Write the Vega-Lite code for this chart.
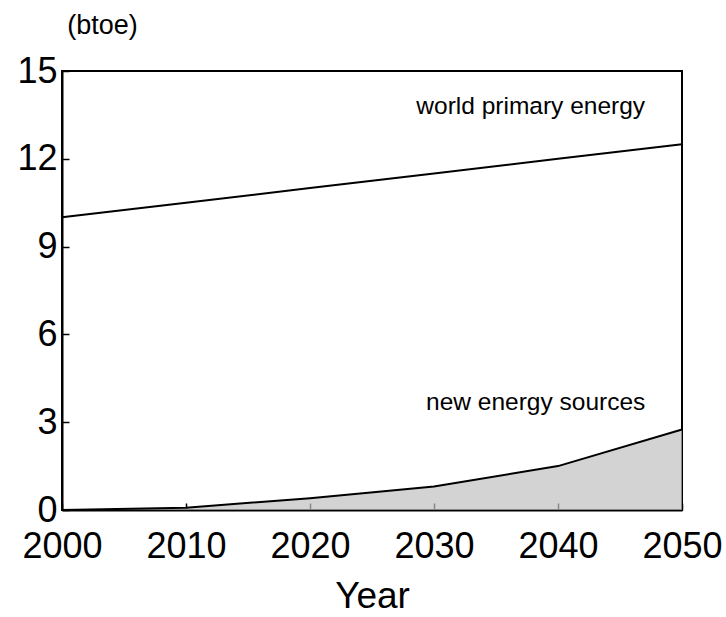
{
  "$schema": "https://vega.github.io/schema/vega-lite/v6.json",
  "autosize": "none",
  "width": 620,
  "height": 439,
  "padding": {"left": 62, "top": 71, "right": 44, "bottom": 107},
  "background": "white",
  "config": {
    "font": "Liberation Sans",
    "view": {"stroke": "black", "strokeWidth": 2},
    "axis": {"domainColor": "black", "domainWidth": 2, "tickColor": "black", "tickWidth": 1.5, "labelColor": "black", "titleColor": "black", "grid": false, "labelFlush": false, "labelOverlap": false}
  },
  "datasets": {
    "series": [
      {"year": 2000, "world": 10.0, "newsrc": 0.0},
      {"year": 2010, "world": 10.5, "newsrc": 0.08},
      {"year": 2020, "world": 11.0, "newsrc": 0.4},
      {"year": 2030, "world": 11.5, "newsrc": 0.8},
      {"year": 2040, "world": 12.0, "newsrc": 1.5},
      {"year": 2050, "world": 12.5, "newsrc": 2.75}
    ],
    "labels": [
      {"year": 2037.8, "value": 13.77, "text": "world primary energy"},
      {"year": 2038.2, "value": 3.66, "text": "new energy sources"}
    ]
  },
  "layer": [
    {
      "data": {"name": "series"},
      "mark": {"type": "area", "color": "#c0c0c0", "line": {"color": "black", "strokeWidth": 2}},
      "encoding": {
        "x": {"field": "year", "type": "quantitative", "scale": {"domain": [2000, 2050], "nice": false}, "axis": {"values": [2000, 2010, 2020, 2030, 2040, 2050], "format": "d", "tickSize": -7, "labelPadding": 26, "labelFontSize": 36, "title": "Year", "titleFontSize": 37, "titleFontWeight": "normal", "titlePadding": 14}},
        "y": {"field": "newsrc", "type": "quantitative", "scale": {"domain": [0, 15], "nice": false}, "axis": {"values": [0, 3, 6, 9, 12, 15], "tickSize": -7, "labelPadding": 12, "labelFontSize": 36, "title": "(btoe)", "titleFontSize": 27, "titleFontWeight": "normal", "titleAngle": 0, "titleX": 40, "titleY": -46, "titleAlign": "center", "titleBaseline": "middle"}}
      }
    },
    {
      "data": {"name": "series"},
      "mark": {"type": "line", "color": "black", "strokeWidth": 2},
      "encoding": {
        "x": {"field": "year", "type": "quantitative"},
        "y": {"field": "world", "type": "quantitative"}
      }
    },
    {
      "data": {"name": "labels"},
      "mark": {"type": "text", "fontSize": 24.5, "color": "black", "align": "center", "baseline": "middle"},
      "encoding": {
        "x": {"field": "year", "type": "quantitative"},
        "y": {"field": "value", "type": "quantitative"},
        "text": {"field": "text"}
      }
    }
  ]
}
